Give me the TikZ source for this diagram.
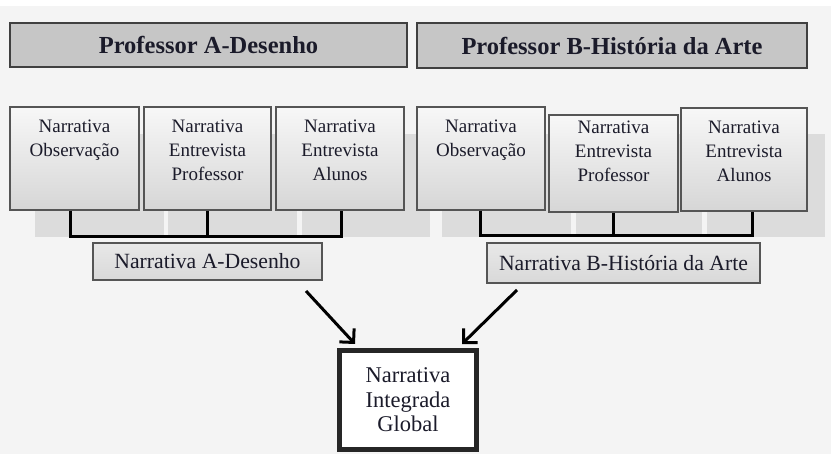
\documentclass[tikz,border=0pt]{standalone}
\usepackage{fontspec}
\setmainfont{Liberation Serif}
\usetikzlibrary{arrows.meta}
\definecolor{bggray}{HTML}{F4F4F4}
\definecolor{bandgray}{HTML}{DCDCDC}
\definecolor{hdrfill}{HTML}{C6C6C6}
\definecolor{hdrline}{HTML}{404040}
\definecolor{boxline}{HTML}{555555}
\definecolor{txt}{HTML}{1B1B2A}
\begin{document}
\begin{tikzpicture}[x=1pt,y=-1pt,
  hdr/.style={draw=hdrline, line width=1.5pt, fill=hdrfill, inner sep=0pt,
    font=\fontsize{24.5}{28}\selectfont\bfseries, text=txt},
  pbox/.style={draw=boxline, line width=1.2pt, top color=gray!6, bottom color=gray!32,
    minimum height=103pt, inner sep=0pt},
  btxt/.style={anchor=north, align=center, inner sep=0pt,
    font=\fontsize{19}{24}\selectfont, text=txt},
  lbl/.style={draw=boxline, line width=1.2pt, top color=gray!18, bottom color=gray!30,
    inner sep=0pt, font=\fontsize{21.7}{25}\selectfont, text=txt},
  glob/.style={draw=black!85, line width=5pt, fill=white, inner sep=0pt, align=center,
    font=\fontsize{22.5}{24.5}\selectfont, text=txt},
  conn/.style={line width=3pt, black},
  arr/.style={line width=3pt, black, -{Straight Barb[length=10pt,width=20pt]}}]
\useasboundingbox (0,0) rectangle (831,454);
\fill[white] (0,0) rectangle (831,454);
\fill[bggray] (0,6) rectangle (831,454);
% background band
\fill[bandgray] (35,134) rectangle (164,237);
\fill[bandgray] (168,134) rectangle (297,237);
\fill[bandgray] (302,134) rectangle (430,237);
\fill[bandgray] (442,134) rectangle (571,237);
\fill[bandgray] (576,134) rectangle (702,237);
\fill[bandgray] (707,134) rectangle (825,237);
% headers
\node[hdr, minimum width=397pt, minimum height=44pt] (hA) at (208.5,45) {Professor A-Desenho};
\node[hdr, minimum width=390pt, minimum height=45pt] (hB) at (612,45.5) {Professor B-História da Arte};
% boxes
\node[pbox, minimum width=129pt] (a1) at (74.5,158.5) {};
\node[pbox, minimum width=127pt] (a2) at (207.5,158.5) {};
\node[pbox, minimum width=128pt] (a3) at (340,158.5) {};
\node[pbox, minimum width=128pt] (b1) at (481,158.5) {};
\node[pbox, minimum width=129pt, minimum height=97pt] (b2) at (613.5,163.5) {};
\node[pbox, minimum width=126pt] (b3) at (744,159.5) {};
\node[btxt] (a1t) at (a1.center |- 0,120) {Narrativa\\Observação};
\node[btxt] (a2t) at (a2.center |- 0,120) {Narrativa\\Entrevista\\Professor};
\node[btxt] (a3t) at (a3.center |- 0,120) {Narrativa\\Entrevista\\Alunos};
\node[btxt] (b1t) at (b1.center |- 0,120) {Narrativa\\Observação};
\node[btxt] (b2t) at (b2.center |- 0,121) {Narrativa\\Entrevista\\Professor};
\node[btxt] (b3t) at (b3.center |- 0,121) {Narrativa\\Entrevista\\Alunos};
% connectors
\coordinate (jA1) at (70,237);
\coordinate (jA3) at (341,237);
\coordinate (jB1) at (480,236);
\coordinate (jB3) at (752,236);
\draw[conn] (a1.south -| jA1) -- (jA1) -- (jA3) -- (a3.south -| jA3);
\draw[conn] (a2.south) -- (a2.south |- jA1);
\draw[conn] (b1.south -| jB1) -- (jB1) -- (jB3) -- (b3.south -| jB3);
\draw[conn] (b2.south) -- (b2.south |- jB1);
% labels
\node[lbl, minimum width=229pt, minimum height=37pt] (lA) at (207.5,261.5) {Narrativa A-Desenho};
\node[lbl, minimum width=273pt, minimum height=40pt] (lB) at (623.5,263) {Narrativa B-História da Arte};
% global
\node[glob, minimum width=137pt, minimum height=99pt] (g) at (408,400) {Narrativa\\Integrada\\Global};
% arrows
\coordinate (sA) at (306,291);
\coordinate (eA) at (355,344);
\coordinate (sB) at (517,290);
\coordinate (eB) at (462,344);
\draw[arr] (sA) -- (eA);
\draw[arr] (sB) -- (eB);
\end{tikzpicture}
\end{document}
